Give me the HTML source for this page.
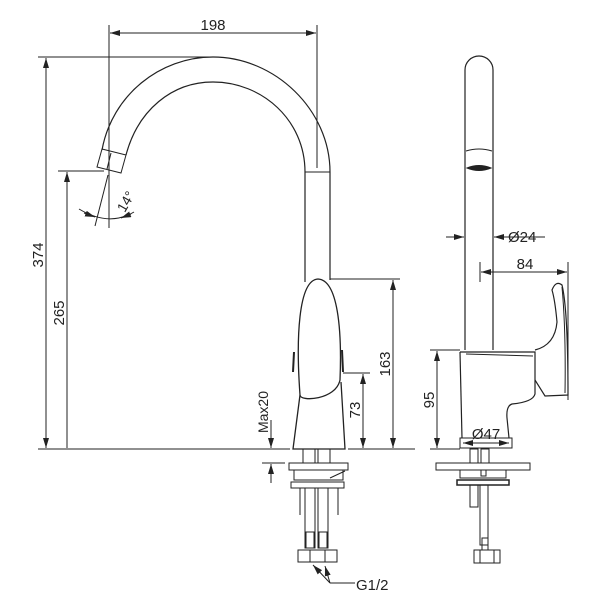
<!DOCTYPE html>
<html><head><meta charset="utf-8"><style>html,body{margin:0;padding:0;background:#fff}svg{display:block}text{font-family:"Liberation Sans",sans-serif;fill:#222}</style></head><body>
<svg width="600" height="615" viewBox="0 0 600 615" xmlns="http://www.w3.org/2000/svg">
<defs><marker id="a" viewBox="0 0 10 6" refX="10" refY="3" markerWidth="10" markerHeight="6" orient="auto-start-reverse" markerUnits="userSpaceOnUse"><path d="M0,0L10,3L0,6z" fill="#222"/></marker></defs>
<g stroke="#222" stroke-width="1" fill="none">
<line x1="109" y1="25" x2="109" y2="228"/><line x1="317" y1="25" x2="317" y2="168"/>
<line x1="110" y1="33" x2="316" y2="33" marker-start="url(#a)" marker-end="url(#a)"/>
<line x1="38" y1="57" x2="215" y2="57"/>
<line x1="46" y1="58" x2="46" y2="448" marker-start="url(#a)" marker-end="url(#a)"/>
<line x1="58" y1="171" x2="104" y2="171"/>
<line x1="67" y1="172" x2="67" y2="448" marker-start="url(#a)"/>
<line x1="38" y1="449" x2="290" y2="449"/><line x1="348" y1="449" x2="415" y2="449"/>
<path d="M102,150 C112,95 160,57 213,57 C275,57 330,110 330,172" stroke-width="1.2"/>
<path d="M126,155 C138,110 172,82 213,82 C262,82 305,120 305,172" stroke-width="1.2"/>
<line x1="305" y1="172" x2="330" y2="172"/>
<line x1="305" y1="172" x2="305" y2="282" stroke-width="1.2"/><line x1="330" y1="172" x2="330" y2="280" stroke-width="1.2"/>
<path d="M102,149 L126,155 L121,173 L97,167 Z"/>
<line x1="111" y1="153" x2="107" y2="169"/>
<line x1="109" y1="172" x2="109" y2="228"/><line x1="108" y1="175" x2="95" y2="226"/>
<path d="M79,209 Q109,227 134,212" />
<path d="M84,213 L95,217" marker-end="url(#a)"/><path d="M131,214 L121,218" marker-end="url(#a)"/>
<path d="M300,395 C296,340 298,280 318,279 C338,280 342,330 340,380 C336,400 300,402 300,395 Z" stroke-width="1.3"/>
<path d="M300,395 L293,449 L345,449 L341,382" stroke-width="1.3"/>
<path d="M294,352 L293,372 M342,350 L343,372" stroke-width="2"/>
<line x1="330" y1="279" x2="400" y2="279"/>
<line x1="393" y1="280" x2="393" y2="448" marker-start="url(#a)" marker-end="url(#a)"/>
<line x1="343" y1="373" x2="370" y2="373"/>
<line x1="363" y1="374" x2="363" y2="448" marker-start="url(#a)" marker-end="url(#a)"/>
<line x1="271" y1="420" x2="271" y2="448" marker-end="url(#a)"/>
<line x1="262" y1="463" x2="285" y2="463"/>
<line x1="271" y1="483" x2="271" y2="464" marker-end="url(#a)"/>
<rect x="303" y="449" width="12" height="14"/><rect x="318" y="449" width="12" height="14"/>
<rect x="289" y="463" width="59" height="7"/><path d="M294,470 L294,480 L343,480 L343,470"/>
<path d="M330,478 L345,471"/>
<rect x="291" y="482" width="53" height="6"/>
<line x1="300" y1="488" x2="300" y2="515"/><line x1="338" y1="488" x2="338" y2="515"/>
<rect x="305" y="488" width="10" height="60"/><rect x="318" y="488" width="10" height="60"/>
<rect x="306" y="532" width="8" height="16"/><rect x="319" y="532" width="8" height="16"/>
<rect x="298" y="550" width="39" height="12"/><line x1="310" y1="550" x2="310" y2="562"/><line x1="325" y1="550" x2="325" y2="562"/>
<path d="M330,583 L313,565" marker-end="url(#a)"/><path d="M330,583 L325,566" marker-end="url(#a)"/>
<line x1="330" y1="583" x2="355" y2="583"/>
<path d="M465,350 L465,70 A14,14 0 0 1 493,70 L493,350" stroke-width="1.2"/>
<path d="M466,151 Q479,147 492,151"/>
<path d="M467,168 Q479,163 491,168 Q479,173 467,168 Z" fill="#222"/>
<line x1="446" y1="237" x2="464" y2="237" marker-end="url(#a)"/><line x1="515" y1="237" x2="494" y2="237" marker-end="url(#a)"/><line x1="515" y1="237" x2="545" y2="237"/>
<line x1="480" y1="262" x2="480" y2="282"/><line x1="568" y1="262" x2="568" y2="400"/>
<line x1="481" y1="272" x2="567" y2="272" marker-start="url(#a)" marker-end="url(#a)"/>
<path d="M460,352 L535,352 L535,394 Q533,402 512,404 Q506,406 507,418 L509,438" stroke-width="1.2"/>
<path d="M460,352 L462,438" stroke-width="1.2"/>
<path d="M466,354 L533,356"/>
<rect x="460" y="438" width="52" height="10"/>
<path d="M535,350 Q555,345 557,322 Q555,300 552,290 Q556,280 562,285 Q568,310 568,395 L545,396 L535,380" stroke-width="1.2"/>
<path d="M562,287 Q566,330 565,393"/>
<line x1="430" y1="350" x2="460" y2="350"/><line x1="430" y1="449" x2="460" y2="449"/>
<line x1="437" y1="351" x2="437" y2="448" marker-start="url(#a)" marker-end="url(#a)"/>
<line x1="463" y1="443" x2="509" y2="443" marker-start="url(#a)" marker-end="url(#a)"/>
<rect x="470" y="449" width="8" height="14"/><rect x="481" y="449" width="8" height="14"/>
<rect x="436" y="463" width="94" height="7"/>
<path d="M460,470 L460,478 L506,478 L506,470"/><rect x="481" y="470" width="5" height="6"/>
<rect x="457" y="480" width="52" height="5" stroke-width="1.5"/>
<rect x="470" y="485" width="8" height="22"/><rect x="480" y="485" width="8" height="60"/>
<rect x="482" y="538" width="6" height="12"/>
<rect x="474" y="550" width="26" height="13"/><line x1="480" y1="550" x2="480" y2="563"/><line x1="494" y1="550" x2="494" y2="563"/>
</g>
<text x="213" y="30" font-size="15" text-anchor="middle">198</text>
<text transform="translate(43,255) rotate(-90)" font-size="15" text-anchor="middle">374</text>
<text transform="translate(64,313) rotate(-90)" font-size="15" text-anchor="middle">265</text>
<text transform="translate(130,204) rotate(-60)" font-size="14" text-anchor="middle">14°</text>
<text transform="translate(390,364) rotate(-90)" font-size="15" text-anchor="middle">163</text>
<text transform="translate(360,410) rotate(-90)" font-size="15" text-anchor="middle">73</text>
<text transform="translate(268,412) rotate(-90)" font-size="14" text-anchor="middle">Max20</text>
<text x="356" y="590" font-size="15">G1/2</text>
<text x="508" y="242" font-size="15">Ø24</text>
<text x="525" y="269" font-size="15" text-anchor="middle">84</text>
<text transform="translate(434,400) rotate(-90)" font-size="15" text-anchor="middle">95</text>
<text x="486" y="439" font-size="15" text-anchor="middle">Ø47</text>
</svg>
</body></html>
